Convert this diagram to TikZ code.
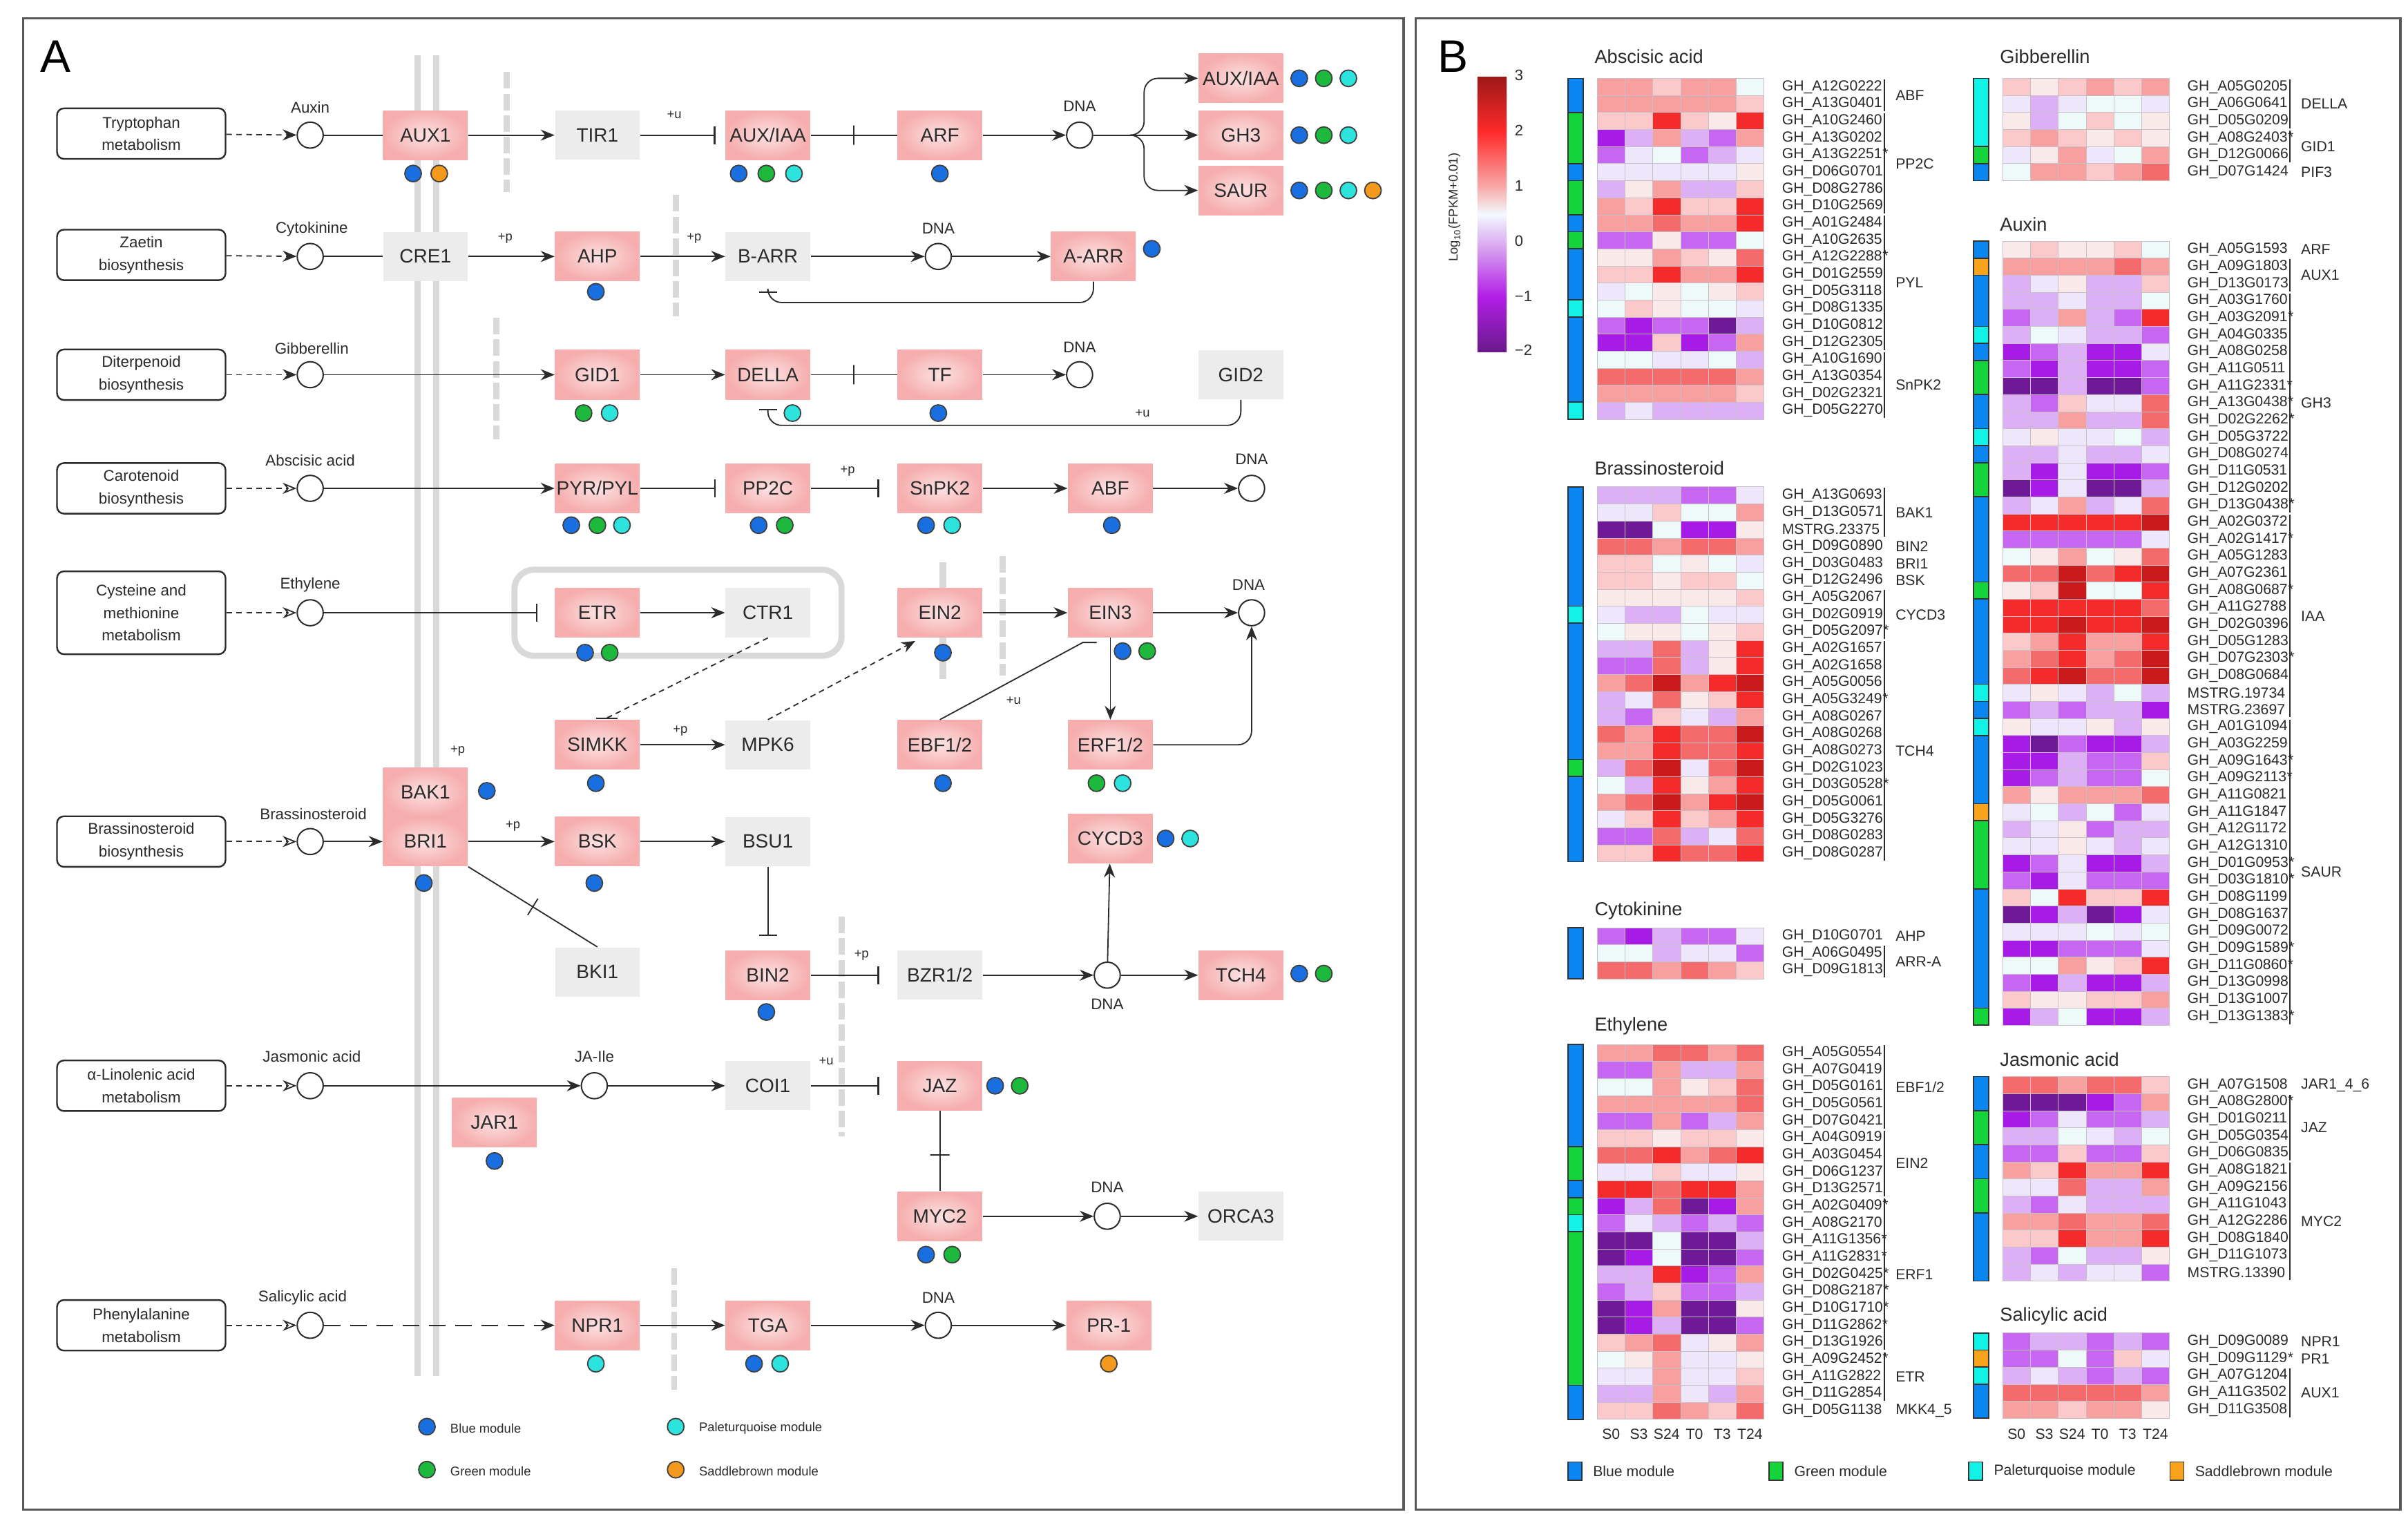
\documentclass[tikz,border=0pt]{standalone}
\usepackage{fontspec}
\setmainfont{Liberation Sans}
\usetikzlibrary{arrows.meta,calc}
\definecolor{txt}{HTML}{2B2B2B}
\definecolor{pkin}{HTML}{FCE2E2}
\definecolor{pkout}{HTML}{F6ADAD}
\definecolor{gyfill}{HTML}{ECECEC}
\definecolor{memc}{HTML}{D9D9D9}
\definecolor{mB}{HTML}{1A6FE0}
\definecolor{mG}{HTML}{1DB93C}
\definecolor{mT}{HTML}{2DE3DE}
\definecolor{mO}{HTML}{F39A1E}
\definecolor{mdB}{HTML}{0A86F2}
\definecolor{mdG}{HTML}{14D43C}
\definecolor{mdT}{HTML}{12F2E6}
\definecolor{mdO}{HTML}{F9A21C}
\definecolor{hmD}{HTML}{6E1A96}
\definecolor{hmP}{HTML}{A61CE6}
\definecolor{hmp}{HTML}{C766F0}
\definecolor{hmv}{HTML}{DDB0F5}
\definecolor{hmw}{HTML}{EEE6FA}
\definecolor{hmc}{HTML}{EEF9FA}
\definecolor{hme}{HTML}{FAE9E9}
\definecolor{hml}{HTML}{FBC9C9}
\definecolor{hmm}{HTML}{F8A0A0}
\definecolor{hmr}{HTML}{F56B6B}
\definecolor{hmR}{HTML}{F32B2B}
\definecolor{hmK}{HTML}{C91B1B}
\definecolor{hmgrid}{HTML}{C8C0C8}
\definecolor{cbA}{HTML}{9E1818}
\definecolor{cbB}{HTML}{FF2A2A}
\definecolor{cbC}{HTML}{F9A8A8}
\definecolor{cbD}{HTML}{F2FAFF}
\definecolor{cbE}{HTML}{DDB2F2}
\definecolor{cbF}{HTML}{B21EE6}
\definecolor{cbG}{HTML}{6A1A8C}
\newcommand\fntA{\fontsize{7pt}{8pt}\selectfont}
\newcommand\fntL{\fontsize{5.6pt}{8.2pt}\selectfont}
\newcommand\fntS{\fontsize{4.6pt}{5.5pt}\selectfont}
\newcommand\fntG{\fontsize{5.3pt}{6pt}\selectfont}
\newcommand\fntT{\fontsize{6.8pt}{8pt}\selectfont}
\newcommand\fntP{\fontsize{16.5pt}{18pt}\selectfont}
\newcommand\astk{\kern0.15pt*}
\def\hmcw{18.1}
\def\hmrh{11.1}
\newcommand\hcell[4]{\edef\hcol{hm#4}\pgfmathsetmacro\hx{#1+#2*\hmcw}\path[fill=\hcol, draw=hmgrid, line width=0.15pt] (\hx,#3) rectangle ++(\hmcw,\hmrh);}
\newcommand\hmap[3]{%
  \foreach [count=\i] \ha/\hb/\hc/\hd/\he/\hf/\lab in {#3}{%
    \pgfmathsetmacro\yy{#2+(\i-1)*\hmrh}%
    \hcell{#1}{0}{\yy}{\ha}\hcell{#1}{1}{\yy}{\hb}\hcell{#1}{2}{\yy}{\hc}%
    \hcell{#1}{3}{\yy}{\hd}\hcell{#1}{4}{\yy}{\he}\hcell{#1}{5}{\yy}{\hf}%
    \node[glab] at ({#1+120},{\yy+\hmrh/2}) {\lab};%
  }%
}
\newcommand\hstrip[3]{\foreach \sa/\sb/\mc in {#3}{\edef\scol{md\mc}\path[fill=\scol, draw=black!80, line width=0.4pt] ({#1-19},{#2+(\sa-1)*\hmrh}) rectangle ({#1-9},{#2+\sb*\hmrh});}}
\newcommand\grp[5]{%
  \ifnum#3<#4\relax\draw[txt, line width=0.5pt] ({#1+187},{#2+(#3-1)*\hmrh+0.7}) -- ({#1+187},{#2+#4*\hmrh-0.7});\fi
  \node[glab] at ({#1+194},{#2+(#3+#4-1)*\hmrh/2}) {#5};}
\newcommand\collabs[1]{\foreach [count=\j from 0] \ctx in {S0,S3,S24,T0,T3,T24}{\node[font=\fntG, text=txt, inner sep=0pt] at ({#1+(\j+0.5)*\hmcw},934) {\ctx};}}
\tikzset{
  ln/.style={draw=txt, line width=0.45pt},
  arr/.style={ln, -{Stealth[length=5pt,width=4pt]}},
  inh/.style={ln, -{Bar[width=6.5pt, line width=0.6pt]}},
  dsh/.style={ln, dash pattern=on 2pt off 1.6pt},
  farr/.style={dsh, -{Stealth[length=5pt,width=4pt]}},
  oarr/.style={dsh, -{Stealth[length=5pt,width=4pt,fill=white]}},
  pk/.style={rectangle, minimum width=30.6pt, minimum height=17.8pt, inner sep=0pt, inner color=pkin, outer color=pkout, text=txt, font=\fntA},
  gy/.style={rectangle, minimum width=30.6pt, minimum height=17.8pt, inner sep=0pt, fill=gyfill, text=txt, font=\fntA},
  lbox/.style={rectangle, draw=txt, line width=0.6pt, rounded corners=2.5pt, fill=white, minimum width=61pt, minimum height=18.3pt, align=center, font=\fntL, text=txt, inner sep=1pt},
  cmp/.style={circle, draw=txt, line width=0.5pt, fill=white, minimum size=9.4pt, inner sep=0pt},
  mdot/.style={circle, minimum size=6pt, inner sep=0pt, line width=0.45pt, draw=black!75},
  bdot/.style={mdot, fill=mB},
  gdot/.style={mdot, fill=mG},
  tdot/.style={mdot, fill=mT},
  odot/.style={mdot, fill=mO},
  lab/.style={font=\fntL, text=txt, inner sep=0.5pt},
  plab/.style={font=\fntS, text=txt, inner sep=0.5pt},
  gbar/.style={draw=memc, line width=2.2pt, dash pattern=on 6pt off 1.8pt},
  mem/.style={draw=memc, line width=2.3pt},
  xbar/.style={draw=txt, line width=0.45pt, minimum width=0pt, minimum height=7pt, inner sep=0pt, outer sep=0pt},
  ybar/.style={draw=txt, line width=0.45pt, minimum width=7pt, minimum height=0pt, inner sep=0pt, outer sep=0pt},
  glab/.style={font=\fntG, text=txt, anchor=west, inner sep=0pt},
  ttl/.style={font=\fntT, text=txt, anchor=west, inner sep=0pt},
  panel/.style={draw=black!65, line width=0.8pt}
}
\begin{document}
\begin{tikzpicture}[x=0.5558pt,y=-0.5558pt]
\fill[white] (0,0) rectangle (1568,996);
\useasboundingbox (0,0) rectangle (1568,996);
\draw[panel] (15,12) rectangle (914,983);
\draw[panel] (922,12) rectangle (1563,983);
\node[font=\fntP, inner sep=0pt] (labA) at (36,37) {A};
\node[font=\fntP, inner sep=0pt] (labB) at (946,37) {B};
% ---------- Panel A background structures
\draw[mem] (272,36) -- (272,896);
\draw[mem] (284,36) -- (284,896);
\draw[gbar] (330,47) -- (330,125);
\draw[gbar] (440,127) -- (440,206);
\draw[gbar] (323,207) -- (323,286);
\draw[gbar] (653,362) -- (653,440);
\draw[gbar] (548,597) -- (548,740);
\draw[gbar] (439,826) -- (439,905);
\draw[mem] (614,366) -- (614,442);
\draw[draw=memc, line width=2.2pt, rounded corners=7pt] (335,371) rectangle (548,427);
% ---------- left boxes
\node[lbox] (lb1) at (92,87) {Tryptophan\\metabolism};
\node[lbox] (lb2) at (92,166) {Zaetin\\biosynthesis};
\node[lbox] (lb3) at (92,244) {Diterpenoid\\biosynthesis};
\node[lbox] (lb4) at (92,318) {Carotenoid\\biosynthesis};
\node[lbox, minimum height=30pt] (lb5) at (92,399) {Cysteine and\\methionine\\metabolism};
\node[lbox] (lb6) at (92,548) {Brassinosteroid\\biosynthesis};
\node[lbox] (lb7) at (92,707) {α-Linolenic acid\\metabolism};
\node[lbox] (lb8) at (92,863) {Phenylalanine\\metabolism};
% compounds
\node[cmp] (c1) at (202,88) {};
\node[cmp] (c2) at (202,167) {};
\node[cmp] (c3) at (202,244) {};
\node[cmp] (c4) at (202,318) {};
\node[cmp] (c5) at (202,399) {};
\node[cmp] (c6) at (202,548) {};
\node[cmp] (c7) at (202,707) {};
\node[cmp] (c8) at (202,863) {};
\node[lab] (t1) at (202,70) {Auxin};
\node[lab] (t2) at (203,149) {Cytokinine};
\node[lab] (t3) at (203,227) {Gibberellin};
\node[lab] (t4) at (202,300) {Abscisic acid};
\node[lab] (t5) at (202,381) {Ethylene};
\node[lab] (t6) at (204,530) {Brassinosteroid};
\node[lab] (t7) at (203,688) {Jasmonic acid};
\node[lab] (t8) at (197,845) {Salicylic acid};
\draw[farr] (lb1) -- (c1);
\draw[farr] (lb2) -- (c2);
\draw[farr] (lb3) -- (c3);
\draw[oarr] (lb4) -- (c4);
\draw[oarr] (lb5) -- (c5);
\draw[oarr] (lb6) -- (c6);
\draw[oarr] (lb7) -- (c7);
\draw[oarr] (lb8) -- (c8);
% ---------- gene boxes
\node[pk] (aux1) at (277,88) {AUX1};
\node[gy] (cre1) at (277,167) {CRE1};
\node[gy] (tir1) at (389,88) {TIR1};
\node[pk] (auxiaa) at (500,88) {AUX/IAA};
\node[pk] (arf) at (612,88) {ARF};
\node[cmp] (d1) at (703,88) {};
\node[pk] (auxiaa2) at (808,51) {AUX/IAA};
\node[pk] (gh3) at (808,88) {GH3};
\node[pk] (saur) at (808,124) {SAUR};
\node[pk] (ahp) at (389,167) {AHP};
\node[gy] (barr) at (500,167) {B-ARR};
\node[cmp] (d2) at (611,167) {};
\node[pk] (aarr) at (712,167) {A-ARR};
\node[pk] (gid1) at (389,244) {GID1};
\node[pk] (della) at (500,244) {DELLA};
\node[pk] (tf) at (612,244) {TF};
\node[cmp] (d3) at (703,244) {};
\node[gy] (gid2) at (808,244) {GID2};
\node[pk] (pyr) at (389,318) {PYR/PYL};
\node[pk] (pp2c) at (500,318) {PP2C};
\node[pk] (snrk) at (612,318) {SnPK2};
\node[pk] (abf) at (723,318) {ABF};
\node[cmp] (d4) at (815,318) {};
\node[pk] (etr) at (389,399) {ETR};
\node[gy] (ctr1) at (500,399) {CTR1};
\node[pk] (ein2) at (612,399) {EIN2};
\node[pk] (ein3) at (723,399) {EIN3};
\node[cmp] (d5) at (815,399) {};
\node[pk] (simkk) at (389,485) {SIMKK};
\node[gy] (mpk6) at (500,485) {MPK6};
\node[pk] (ebf) at (612,485) {EBF1/2};
\node[pk] (erf) at (723,485) {ERF1/2};
\node[pk] (bak1) at (277,516) {BAK1};
\node[pk] (bri1) at (277,548) {BRI1};
\node[pk] (bsk) at (389,548) {BSK};
\node[gy] (bsu1) at (500,548) {BSU1};
\node[pk] (cycd3) at (723,546) {CYCD3};
\node[gy] (bki1) at (389,633) {BKI1};
\node[pk] (bin2) at (500,635) {BIN2};
\node[gy] (bzr) at (612,635) {BZR1/2};
\node[cmp] (d6) at (721,635) {};
\node[pk] (tch4) at (808,635) {TCH4};
\node[cmp] (jaile) at (387,707) {};
\node[pk] (jar1) at (322,731) {JAR1};
\node[gy] (coi1) at (500,707) {COI1};
\node[pk] (jaz) at (612,707) {JAZ};
\node[pk] (myc2) at (612,792) {MYC2};
\node[cmp] (d7) at (721,792) {};
\node[gy] (orca3) at (808,792) {ORCA3};
\node[pk] (npr1) at (389,863) {NPR1};
\node[pk] (tga) at (500,863) {TGA};
\node[cmp] (d8) at (611,863) {};
\node[pk] (pr1) at (722,863) {PR-1};
% DNA labels
\node[lab] (n1) at (703,69) {DNA};
\node[lab] (n2) at (611,149) {DNA};
\node[lab] (n3) at (703,226) {DNA};
\node[lab] (n4) at (815,299) {DNA};
\node[lab] (n5) at (813,381) {DNA};
\node[lab] (n6) at (721,654) {DNA};
\node[lab] (n7) at (721,773) {DNA};
\node[lab] (n8) at (611,845) {DNA};
\node[lab] (nj) at (387,688) {JA-Ile};
% small labels
\node[plab] (p1) at (439,75) {+u};
\node[plab] (p2) at (329,155) {+p};
\node[plab] (p3) at (452,155) {+p};
\node[plab] (p4) at (744,269) {+u};
\node[plab] (p5) at (552,307) {+p};
\node[plab] (p6) at (443,476) {+p};
\node[plab] (p7) at (660,456) {+u};
\node[plab] (p8) at (298,489) {+p};
\node[plab] (p9) at (334,538) {+p};
\node[plab] (p10) at (561,622) {+p};
\node[plab] (p11) at (538,691) {+u};
% ---------- connectors
\draw[ln] (c1) -- (aux1);
\draw[arr] (aux1) -- (tir1);
\draw[inh, shorten >=3.5pt] (tir1) -- (auxiaa);
\draw[ln] (auxiaa) -- node[xbar]{} (arf);
\draw[arr] (arf) -- (d1);
\draw[arr] (d1) -- (gh3);
\coordinate (br) at (737,88);
\draw[arr, rounded corners=5pt] (br) -| (745,70) |- (auxiaa2.west);
\draw[arr, rounded corners=5pt] (br) -| (745,106) |- (saur.west);
\draw[ln] (c2) -- (cre1);
\draw[arr] (cre1) -- (ahp);
\draw[arr] (ahp) -- (barr);
\draw[arr] (barr) -- (d2);
\draw[arr] (d2) -- (aarr);
\coordinate (fb1) at (500,197);
\draw[inh, rounded corners=5pt, shorten >=3.5pt] (aarr.south) |- (fb1) -- (barr.south);
\draw[arr] (c3) -- (gid1);
\draw[arr] (gid1) -- (della);
\draw[ln] (della) -- node[xbar]{} (tf);
\draw[arr] (tf) -- (d3);
\coordinate (fb2) at (500,277);
\draw[inh, rounded corners=5pt, shorten >=3.3pt] (gid2.south) |- (fb2) -- (della.south);
\draw[arr] (c4) -- (pyr);
\draw[inh, shorten >=3.3pt] (pyr) -- (pp2c);
\draw[inh, shorten >=6.5pt] (pp2c) -- (snrk);
\draw[arr] (snrk) -- (abf);
\draw[arr] (abf) -- (d4);
\draw[inh, shorten >=6.2pt] (c5) -- (etr);
\draw[arr] (etr) -- (ctr1);
\draw[arr] (ein2) -- (ein3);
\draw[arr] (ein3) -- (d5);
\draw[arr] (ein3) -- (erf);
\draw[arr, rounded corners=5pt] (erf.east) -| (d5.south);
\coordinate (simkkend) at ($(simkk.north)+(6,-1)$);
\draw[ln, dash pattern=on 2pt off 1.5pt] (ctr1.south) -- (simkkend);
\draw[ln] ($(simkkend)+(-7,0)$) -- ($(simkkend)+(7,0)$);
\coordinate (ein2in) at ($(ein2.south)+(-16,2)$);
\draw[ln, dash pattern=on 2pt off 1.5pt, -{Stealth[length=5pt,width=4pt]}] (mpk6.north) -- (ein2in);
\coordinate (ebfend) at ($(ein3.south west)+(10,3)$);
\draw[ln] (ebf.north) -- (ebfend) -- ++(9,0);
\draw[arr] (simkk) -- (mpk6);
\draw[arr] (c6) -- (bri1);
\draw[arr] (bri1) -- (bsk);
\draw[ln] (bri1.south east) -- node[xbar, sloped]{} (bki1.north);
\draw[arr] (bsk) -- (bsu1);
\draw[inh, shorten >=5pt] (bsu1) -- (bin2);
\draw[inh, shorten >=6.5pt] (bin2) -- (bzr);
\draw[arr] (bzr) -- (d6);
\draw[arr] (d6) -- (tch4);
\draw[arr] (d6) -- (cycd3);
\draw[arr] (c7) -- (jaile);
\draw[arr] (jaile) -- (coi1);
\draw[inh, shorten >=6.5pt] (coi1) -- (jaz);
\draw[ln] (jaz) -- node[ybar, pos=0.55]{} (myc2);
\draw[arr] (myc2) -- (d7);
\draw[arr] (d7) -- (orca3);
\draw[ln, dash pattern=on 6pt off 3.5pt, -{Stealth[length=5pt,width=4pt]}] (c8) -- (npr1);
\draw[arr] (npr1) -- (tga);
\draw[arr] (tga) -- (d8);
\draw[arr] (d8) -- (pr1);
% ---------- module dots
\node[bdot] (m1) at (269,113) {};
\node[odot] (m2) at (286,113) {};
\node[bdot] (m3) at (481,113) {};
\node[gdot] (m4) at (499,113) {};
\node[tdot] (m5) at (517,113) {};
\node[bdot] (m6) at (612,113) {};
\node[bdot] (m7) at (846,51) {};
\node[gdot] (m8) at (862,51) {};
\node[tdot] (m9) at (878,51) {};
\node[bdot] (m10) at (846,88) {};
\node[gdot] (m11) at (862,88) {};
\node[tdot] (m12) at (878,88) {};
\node[bdot] (m13) at (846,124) {};
\node[gdot] (m14) at (862,124) {};
\node[tdot] (m15) at (878,124) {};
\node[odot] (m16) at (894,124) {};
\node[bdot] (m17) at (388,190) {};
\node[bdot] (m18) at (750,162) {};
\node[gdot] (m19) at (380,269) {};
\node[tdot] (m20) at (397,269) {};
\node[tdot] (m21) at (516,269) {};
\node[bdot] (m22) at (611,269) {};
\node[bdot] (m23) at (372,342) {};
\node[gdot] (m24) at (389,342) {};
\node[tdot] (m25) at (405,342) {};
\node[bdot] (m26) at (494,342) {};
\node[gdot] (m27) at (511,342) {};
\node[bdot] (m28) at (603,342) {};
\node[tdot] (m29) at (620,342) {};
\node[bdot] (m30) at (724,342) {};
\node[bdot] (m31) at (381,425) {};
\node[gdot] (m32) at (397,425) {};
\node[bdot] (m33) at (614,425) {};
\node[bdot] (m34) at (731,424) {};
\node[gdot] (m35) at (747,424) {};
\node[bdot] (m36) at (388,510) {};
\node[bdot] (m37) at (614,510) {};
\node[gdot] (m38) at (714,510) {};
\node[tdot] (m39) at (731,510) {};
\node[bdot] (m40) at (317,515) {};
\node[bdot] (m41) at (276,575) {};
\node[bdot] (m42) at (387,575) {};
\node[bdot] (m43) at (759,546) {};
\node[tdot] (m44) at (775,546) {};
\node[bdot] (m45) at (499,659) {};
\node[bdot] (m46) at (846,634) {};
\node[gdot] (m47) at (862,634) {};
\node[bdot] (m48) at (322,756) {};
\node[bdot] (m49) at (648,707) {};
\node[gdot] (m50) at (664,707) {};
\node[bdot] (m51) at (603,817) {};
\node[gdot] (m52) at (620,817) {};
\node[tdot] (m53) at (388,888) {};
\node[bdot] (m54) at (491,888) {};
\node[tdot] (m55) at (508,888) {};
\node[odot] (m56) at (722,888) {};
% legend A
\node[bdot] (lg1) at (278,929) {};
\node[gdot] (lg2) at (278,957) {};
\node[tdot] (lg3) at (440,929) {};
\node[odot] (lg4) at (440,957) {};
\node[plab, anchor=west] (lt1) at (292,930) {Blue module};
\node[plab, anchor=west] (lt2) at (292,958) {Green module};
\node[plab, anchor=west] (lt3) at (454,930) {Paleturquoise module};
\node[plab, anchor=west] (lt4) at (454,958) {Saddlebrown module};
% ---------- Panel B colour bar
\shade[top color=cbA, bottom color=cbB] (962,50) rectangle (981,85.8);
\shade[top color=cbB, bottom color=cbC] (962,85.8) rectangle (981,121.6);
\shade[top color=cbC, bottom color=cbD] (962,121.6) rectangle (981,139.5);
\shade[top color=cbD, bottom color=cbE] (962,139.5) rectangle (981,157.4);
\shade[top color=cbE, bottom color=cbF] (962,157.4) rectangle (981,193.2);
\shade[top color=cbF, bottom color=cbG] (962,193.2) rectangle (981,229);
\foreach \v/\yy in {3/49,2/85,1/121,0/157,−1/193,−2/228}{\node[font=\fontsize{5.5pt}{6pt}\selectfont, text=txt, anchor=west, inner sep=0pt] at (986,\yy) {\v};}
\node[font=\fontsize{4.6pt}{5pt}\selectfont, text=txt, rotate=90, inner sep=0pt] (cbl) at (947,135) {Log\textsubscript{10}(FPKM+0.01)};
% ---------- Heatmaps: left column
\node[ttl] at (1038,37) {Abscisic acid};
\hstrip{1040}{51}{1/2/B,3/5/G,6/6/B,7/8/G,9/9/B,10/10/G,11/13/B,14/14/T,15/19/B,20/20/T}
\hmap{1040}{51}{m/m/l/m/m/c/{GH\_A12G0222},
m/m/m/m/m/l/{GH\_A13G0401},
l/l/R/l/e/R/{GH\_A10G2460},
P/v/m/v/p/m/{GH\_A13G0202},
p/w/c/p/v/w/{GH\_A13G2251\astk},
w/w/w/w/w/e/{GH\_D06G0701},
v/e/m/v/v/l/{GH\_D08G2786},
m/l/R/l/l/R/{GH\_D10G2569},
m/m/r/m/m/R/{GH\_A01G2484},
p/p/e/p/p/c/{GH\_A10G2635},
e/e/m/l/e/r/{GH\_A12G2288\astk},
l/l/R/m/m/R/{GH\_D01G2559},
w/c/e/c/e/l/{GH\_D05G3118},
c/l/e/c/c/w/{GH\_D08G1335},
p/P/p/p/D/v/{GH\_D10G0812},
P/P/l/P/p/m/{GH\_D12G2305},
c/c/w/w/c/v/{GH\_A10G1690},
r/r/r/r/r/m/{GH\_A13G0354},
m/m/m/m/m/l/{GH\_D02G2321},
v/w/v/v/v/v/{GH\_D05G2270}}
\grp{1040}{51}{1}{2}{ABF}
\grp{1040}{51}{3}{8}{PP2C}
\grp{1040}{51}{9}{16}{PYL}
\grp{1040}{51}{17}{20}{SnPK2}
\node[ttl] at (1038,305) {Brassinosteroid};
\hstrip{1040}{317}{1/7/B,8/8/T,9/16/B,17/17/G,18/22/B}
\hmap{1040}{317}{v/v/v/p/p/w/{GH\_A13G0693},
w/w/l/c/c/m/{GH\_D13G0571},
D/D/c/P/P/e/{MSTRG.23375},
r/r/m/r/r/m/{GH\_D09G0890},
l/l/c/e/c/w/{GH\_D03G0483},
l/l/e/l/l/c/{GH\_D12G2496},
e/e/e/e/e/l/{GH\_A05G2067},
w/v/v/c/w/w/{GH\_D02G0919},
c/e/e/c/e/l/{GH\_D05G2097\astk},
v/v/r/v/e/R/{GH\_A02G1657},
p/p/r/v/e/R/{GH\_A02G1658},
m/r/K/m/R/K/{GH\_A05G0056},
v/w/r/e/l/R/{GH\_A05G3249\astk},
v/p/l/w/v/m/{GH\_A08G0267},
r/m/R/r/r/K/{GH\_A08G0268},
m/m/R/r/r/R/{GH\_A08G0273},
v/r/K/w/r/K/{GH\_D02G1023},
c/v/R/e/m/R/{GH\_D03G0528\astk},
m/r/K/m/R/K/{GH\_D05G0061},
w/l/R/l/m/R/{GH\_D05G3276},
p/p/r/v/w/r/{GH\_D08G0283},
l/l/R/r/r/R/{GH\_D08G0287}}
\grp{1040}{317}{1}{3}{BAK1}
\grp{1040}{317}{4}{4}{BIN2}
\grp{1040}{317}{5}{5}{BRI1}
\grp{1040}{317}{6}{6}{BSK}
\grp{1040}{317}{7}{9}{CYCD3}
\grp{1040}{317}{10}{22}{TCH4}
\node[ttl] at (1038,593) {Cytokinine};
\hstrip{1040}{604}{1/3/B}
\hmap{1040}{604}{p/P/v/p/p/w/{GH\_D10G0701},
c/c/v/w/w/p/{GH\_A06G0495},
r/r/m/r/m/l/{GH\_D09G1813}}
\grp{1040}{604}{1}{1}{AHP}
\grp{1040}{604}{2}{3}{ARR-A}
\node[ttl] at (1038,668) {Ethylene};
\hstrip{1040}{680}{1/6/B,7/8/G,9/9/B,10/10/G,11/11/T,12/20/G,21/22/B}
\hmap{1040}{680}{m/m/r/r/m/r/{GH\_A05G0554},
p/p/m/v/v/m/{GH\_A07G0419},
c/c/m/e/l/r/{GH\_D05G0161},
m/m/m/m/m/r/{GH\_D05G0561},
p/p/m/p/v/m/{GH\_D07G0421},
l/l/e/l/l/e/{GH\_A04G0919},
r/r/R/m/r/R/{GH\_A03G0454},
w/w/l/w/w/e/{GH\_D06G1237},
R/R/r/R/R/m/{GH\_D13G2571},
P/v/r/D/P/m/{GH\_A02G0409\astk},
p/w/v/p/v/p/{GH\_A08G2170},
D/D/c/D/D/v/{GH\_A11G1356\astk},
D/P/c/D/D/p/{GH\_A11G2831\astk},
v/v/R/P/p/m/{GH\_D02G0425\astk},
p/v/l/p/p/v/{GH\_D08G2187\astk},
D/P/m/D/D/e/{GH\_D10G1710\astk},
D/P/v/D/D/p/{GH\_D11G2862\astk},
l/m/r/w/e/m/{GH\_D13G1926},
c/e/m/w/w/e/{GH\_A09G2452\astk},
w/w/m/w/w/l/{GH\_A11G2822},
v/v/m/w/v/m/{GH\_D11G2854},
l/l/r/m/l/r/{GH\_D05G1138}}
\grp{1040}{680}{1}{5}{EBF1/2}
\grp{1040}{680}{6}{9}{EIN2}
\grp{1040}{680}{10}{18}{ERF1}
\grp{1040}{680}{19}{21}{ETR}
\grp{1040}{680}{22}{22}{MKK4\_5}
\collabs{1040}
% ---------- Heatmaps: right column
\node[ttl] at (1302,37) {Gibberellin};
\hstrip{1304}{51}{1/4/T,5/5/G,6/6/B}
\hmap{1304}{51}{l/e/l/m/l/m/{GH\_A05G0205},
w/v/w/c/c/w/{GH\_A06G0641},
e/v/c/l/c/e/{GH\_D05G0209},
l/m/l/e/l/e/{GH\_A08G2403\astk},
w/e/m/w/c/m/{GH\_D12G0066},
c/m/m/l/m/r/{GH\_D07G1424}}
\grp{1304}{51}{1}{3}{DELLA}
\grp{1304}{51}{4}{5}{GID1}
\grp{1304}{51}{6}{6}{PIF3}
\node[ttl] at (1302,146) {Auxin};
\hstrip{1304}{157}{1/1/B,2/2/O,3/5/B,6/6/T,7/7/B,8/9/G,10/11/B,12/12/T,13/13/B,14/15/G,16/20/B,21/21/G,22/26/B,27/27/T,28/28/B,29/29/T,30/33/B,34/34/O,35/38/G,39/45/B,46/46/G}
\hmap{1304}{157}{e/l/e/e/l/c/{GH\_A05G1593},
m/m/m/m/r/m/{GH\_A09G1803},
v/w/e/v/v/l/{GH\_D13G0173},
v/v/w/v/v/c/{GH\_A03G1760},
p/v/m/v/p/R/{GH\_A03G2091\astk},
v/c/w/v/v/p/{GH\_A04G0335},
P/p/v/P/P/w/{GH\_A08G0258},
p/P/v/P/P/p/{GH\_A11G0511},
D/D/v/D/D/p/{GH\_A11G2331\astk},
v/p/l/w/w/r/{GH\_A13G0438\astk},
v/v/m/v/v/r/{GH\_D02G2262\astk},
w/e/w/w/c/v/{GH\_D05G3722},
v/v/w/v/v/w/{GH\_D08G0274},
v/P/w/P/P/p/{GH\_D11G0531},
D/P/w/D/D/v/{GH\_D12G0202},
v/w/m/v/w/r/{GH\_D13G0438\astk},
R/R/R/R/R/K/{GH\_A02G0372},
p/p/p/p/p/w/{GH\_A02G1417\astk},
c/e/m/c/e/r/{GH\_A05G1283},
r/r/K/r/R/K/{GH\_A07G2361},
e/l/K/c/c/R/{GH\_A08G0687\astk},
R/R/R/R/R/r/{GH\_A11G2788},
R/R/K/R/R/K/{GH\_D02G0396},
l/m/R/m/m/R/{GH\_D05G1283},
m/r/R/m/r/K/{GH\_D07G2303\astk},
r/R/K/r/r/K/{GH\_D08G0684},
w/e/w/v/c/v/{MSTRG.19734},
p/v/p/v/v/P/{MSTRG.23697},
e/w/w/e/v/e/{GH\_A01G1094},
P/D/p/P/P/v/{GH\_A03G2259},
P/P/v/p/p/l/{GH\_A09G1643\astk},
P/p/v/p/p/c/{GH\_A09G2113\astk},
m/e/m/m/m/r/{GH\_A11G0821},
w/c/v/c/p/w/{GH\_A11G1847},
v/w/e/p/v/v/{GH\_A12G1172},
w/w/e/w/v/w/{GH\_A12G1310},
P/p/w/P/P/v/{GH\_D01G0953\astk},
p/P/w/p/p/p/{GH\_D03G1810\astk},
l/c/R/l/l/R/{GH\_D08G1199},
D/P/v/D/P/w/{GH\_D08G1637},
w/w/w/c/w/c/{GH\_D09G0072},
P/P/p/p/p/w/{GH\_D09G1589\astk},
c/c/m/e/l/R/{GH\_D11G0860\astk},
p/P/v/P/P/v/{GH\_D13G0998},
l/e/e/l/l/m/{GH\_D13G1007},
P/v/c/P/P/v/{GH\_D13G1383\astk}}
\grp{1304}{157}{1}{1}{ARF}
\grp{1304}{157}{2}{3}{AUX1}
\grp{1304}{157}{4}{16}{GH3}
\grp{1304}{157}{17}{28}{IAA}
\grp{1304}{157}{29}{46}{SAUR}
\node[ttl] at (1302,690) {Jasmonic acid};
\hstrip{1304}{701}{1/2/B,3/4/G,5/6/B,7/8/G,9/12/B}
\hmap{1304}{701}{r/r/m/r/r/l/{GH\_A07G1508},
D/D/D/P/p/m/{GH\_A08G2800\astk},
P/p/w/p/p/v/{GH\_D01G0211},
v/v/c/w/v/c/{GH\_D05G0354},
p/p/l/p/p/l/{GH\_D06G0835},
m/l/R/m/m/R/{GH\_A08G1821},
w/w/r/v/v/m/{GH\_A09G2156},
v/p/w/v/v/v/{GH\_A11G1043},
m/m/r/m/m/r/{GH\_A12G2286},
l/l/R/m/m/R/{GH\_D08G1840},
v/p/c/v/v/e/{GH\_D11G1073},
v/w/v/w/w/p/{MSTRG.13390}}
\grp{1304}{701}{1}{1}{JAR1\_4\_6}
\grp{1304}{701}{2}{5}{JAZ}
\grp{1304}{701}{6}{12}{MYC2}
\node[ttl] at (1302,857) {Salicylic acid};
\hstrip{1304}{868}{1/1/T,2/2/O,3/3/T,4/5/B}
\hmap{1304}{868}{p/v/v/p/v/p/{GH\_D09G0089},
p/p/c/p/l/w/{GH\_D09G1129\astk},
v/w/v/p/v/p/{GH\_A07G1204},
r/r/r/r/r/m/{GH\_A11G3502},
m/m/l/m/m/e/{GH\_D11G3508}}
\grp{1304}{868}{1}{1}{NPR1}
\grp{1304}{868}{2}{2}{PR1}
\grp{1304}{868}{3}{5}{AUX1}
\collabs{1304}
% ---------- legend B
\path[fill=mdB, draw=black!80, line width=0.4pt] (1021,952) rectangle (1030,964);
\path[fill=mdG, draw=black!80, line width=0.4pt] (1152,952) rectangle (1161,964);
\path[fill=mdT, draw=black!80, line width=0.4pt] (1282,952) rectangle (1291,964);
\path[fill=mdO, draw=black!80, line width=0.4pt] (1413,952) rectangle (1422,964);
\node[glab] (lb-b) at (1037,958) {Blue module};
\node[glab] (lb-g) at (1168,958) {Green module};
\node[glab] (lb-t) at (1298,958) {Paleturquoise module};
\node[glab] (lb-o) at (1429,958) {Saddlebrown module};
\end{tikzpicture}
\end{document}
